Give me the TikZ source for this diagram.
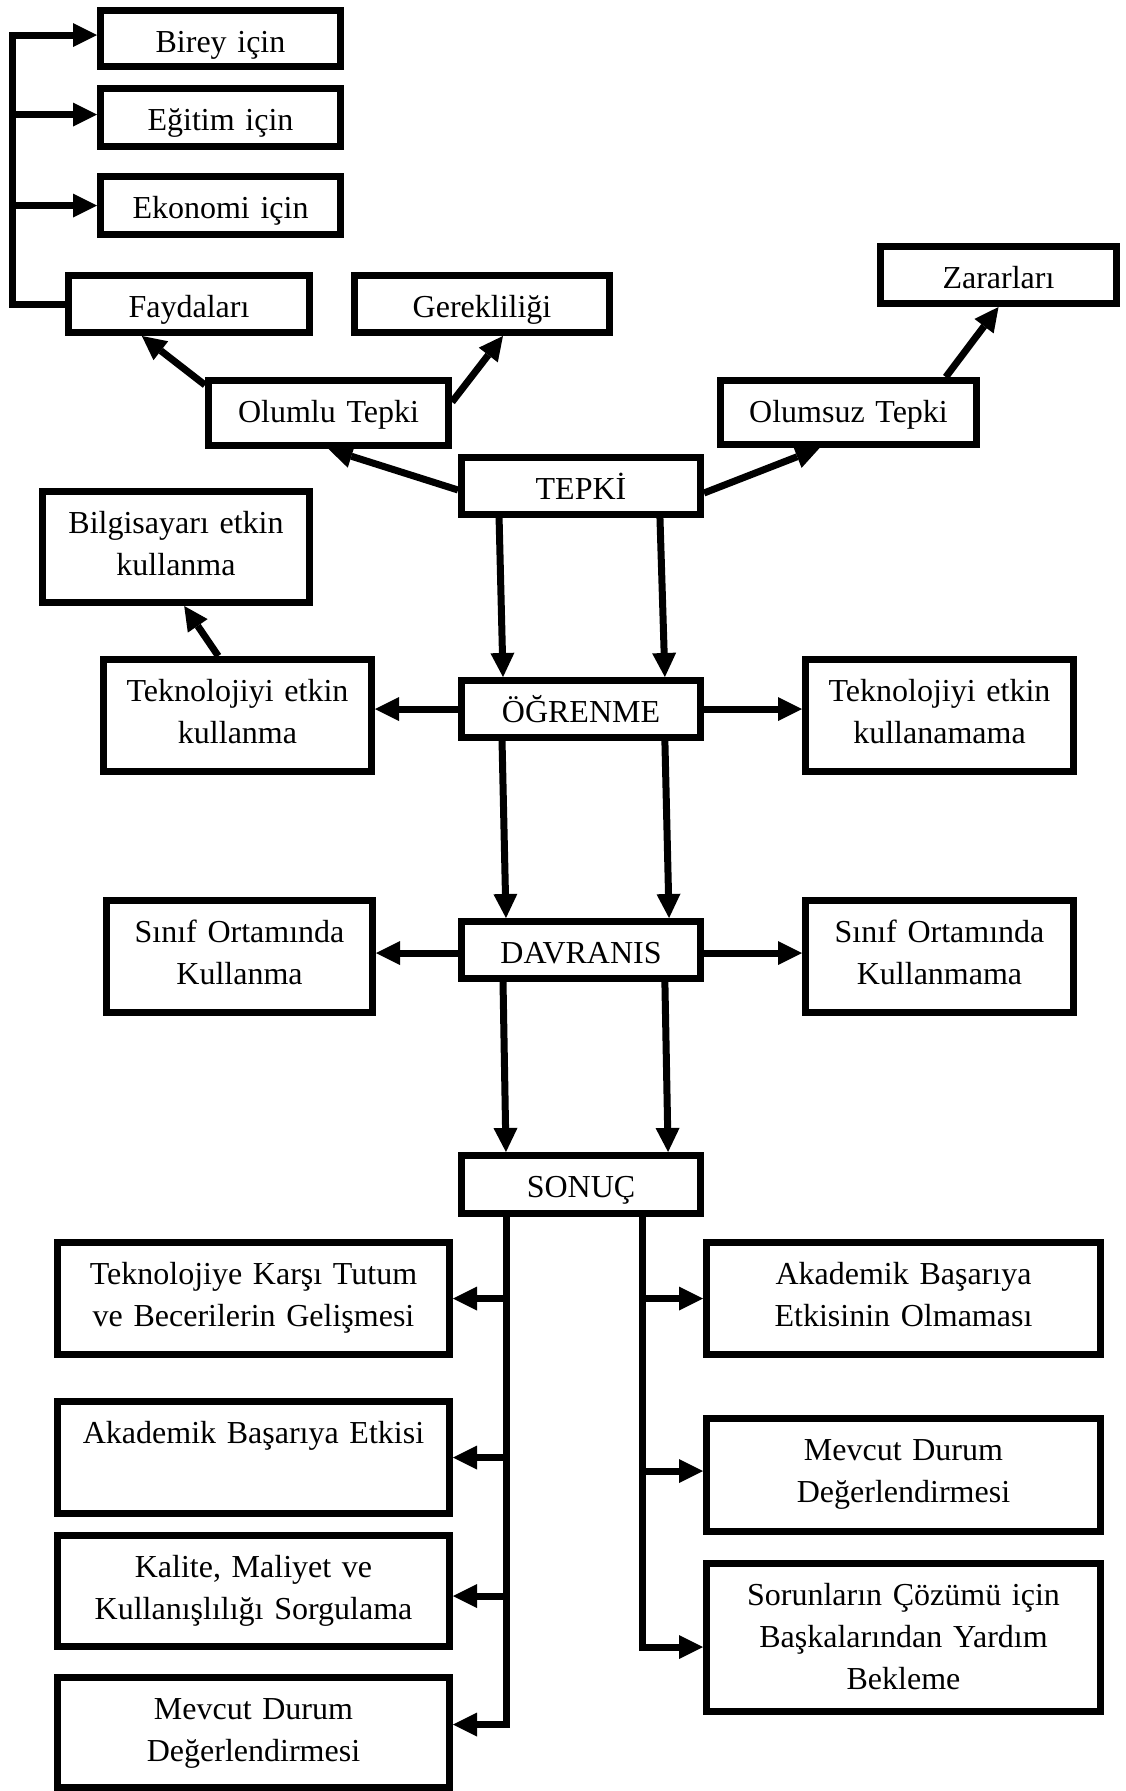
\documentclass[tikz,border=0pt]{standalone}
\usepackage{fontspec}
\setmainfont{Liberation Serif}
\usetikzlibrary{calc,arrows.meta}
\tikzset{
  bx/.style={draw, line width=7pt, inner sep=0pt, anchor=north west, align=center,
    text height=41.5pt, font=\fontsize{32}{42}\selectfont},
  conn/.style={line width=7pt},
  arr/.style={conn, -{Triangle[length=24pt,width=24pt,line width=0pt]}}
}
\begin{document}
\begin{tikzpicture}[x=1pt,y=-1pt]
\useasboundingbox[fill=white] (0,0) rectangle (1126,1791);
% boxes (anchor = outer north west corner)
\node[bx, text width=240pt, text depth=14.5pt] (birey) at (97,7) {Birey için};
\node[bx, text width=240pt, text depth=16.5pt] (egitim) at (97,85) {Eğitim için};
\node[bx, text width=240pt, text depth=16.5pt] (ekonomi) at (97,173) {Ekonomi için};
\node[bx, text width=241pt, text depth=15.5pt] (fayda) at (65,272) {Faydaları};
\node[bx, text width=255pt, text depth=15.5pt] (gerek) at (351,272) {Gerekliliği};
\node[bx, text width=236pt, text depth=15.5pt] (zarar) at (877,243) {Zararları};
\node[bx, text width=240pt, text depth=23.5pt] (olumlu) at (205,377) {Olumlu Tepki};
\node[bx, text width=256pt, text depth=22.5pt] (olumsuz) at (717,377) {Olumsuz Tepki};
\node[bx, text width=239pt, text depth=15.5pt] (tepki) at (458,454) {TEPKİ};
\node[bx, text width=267pt, text depth=69.5pt] (bilgi) at (39,488) {Bilgisayarı etkin\\kullanma};
\node[bx, text width=268pt, text depth=70.5pt] (tekL) at (100,656) {Teknolojiyi etkin\\kullanma};
\node[bx, text width=239pt, text depth=15.5pt] (ogrenme) at (458,677) {ÖĞRENME};
\node[bx, text width=268pt, text depth=70.5pt] (tekR) at (802,656) {Teknolojiyi etkin\\kullanamama};
\node[bx, text width=266pt, text depth=70.5pt] (sinifL) at (103,897) {Sınıf Ortamında\\Kullanma};
\node[bx, text width=239pt, text depth=15.5pt] (davranis) at (458,918) {DAVRANIS};
\node[bx, text width=268pt, text depth=70.5pt] (sinifR) at (802,897) {Sınıf Ortamında\\Kullanmama};
\node[bx, text width=239pt, text depth=16.5pt] (sonuc) at (458,1152) {SONUÇ};
\node[bx, text width=392pt, text depth=70.5pt] (tutum) at (54,1239) {Teknolojiye Karşı Tutum\\ve Becerilerin Gelişmesi};
\node[bx, text width=392pt, text depth=70.5pt] (akad) at (54,1398) {Akademik Başarıya Etkisi};
\node[bx, text width=392pt, text depth=69.5pt] (kalite) at (54,1532) {Kalite, Maliyet ve\\Kullanışlılığı Sorgulama};
\node[bx, text width=392pt, text depth=68.5pt] (mevcutL) at (54,1674) {Mevcut Durum\\Değerlendirmesi};
\node[bx, text width=394pt, text depth=70.5pt] (akadR) at (703,1239) {Akademik Başarıya\\Etkisinin Olmaması};
\node[bx, text width=394pt, text depth=71.5pt] (mevcutR) at (703,1415) {Mevcut Durum\\Değerlendirmesi};
\node[bx, text width=394pt, text depth=106.5pt] (sorun) at (703,1560) {Sorunların Çözümü için\\Başkalarından Yardım\\Bekleme};
% bracket at top left
\coordinate (bt) at (12,35);
\draw[arr] (fayda.west) -| (bt) -- (bt -| birey.west);
\coordinate (eg) at ([yshift=3pt]egitim.west);
\draw[arr] (bt |- eg) -- (eg);
\draw[arr] (bt |- ekonomi.west) -- (ekonomi.west);
% tepki level
\draw[arr] ([yshift=-8pt]olumlu.north west) -- ($(fayda.south west)!0.31!(fayda.south east)$);
\draw[arr] ([yshift=11pt]olumlu.east) -- ($(gerek.south west)!0.58!(gerek.south east)$);
\draw[arr] ([yshift=-4pt]tepki.west) -- (olumlu.south);
\draw[arr] ([yshift=-7pt]tepki.east) -- ($(olumsuz.south west)!0.39!(olumsuz.south east)$);
\draw[arr] ($(olumsuz.north west)!0.87!(olumsuz.north east)$) -- (zarar.south);
% tepki -> ogrenme
\draw[arr] ($(tepki.south west)!0.167!(tepki.south east)$) -- ($(ogrenme.north west)!0.183!(ogrenme.north east)$);
\draw[arr] ($(tepki.south west)!0.821!(tepki.south east)$) -- ($(ogrenme.north west)!0.841!(ogrenme.north east)$);
\draw[arr] (ogrenme.west) -- (ogrenme.west -| tekL.east);
\draw[arr] (ogrenme.east) -- (ogrenme.east -| tekR.west);
\draw[arr] ($(tekL.north west)!0.43!(tekL.north east)$) -- ($(bilgi.south west)!0.53!(bilgi.south east)$);
% ogrenme -> davranis
\draw[arr] ($(ogrenme.south west)!0.179!(ogrenme.south east)$) -- ($(davranis.north west)!0.195!(davranis.north east)$);
\draw[arr] ($(ogrenme.south west)!0.841!(ogrenme.south east)$) -- ($(davranis.north west)!0.858!(davranis.north east)$);
\coordinate (dl) at ([yshift=-3pt]davranis.west);
\coordinate (dr) at ([yshift=-3pt]davranis.east);
\draw[arr] (dl) -- (dl -| sinifL.east);
\draw[arr] (dr) -- (dr -| sinifR.west);
% davranis -> sonuc
\draw[arr] ($(davranis.south west)!0.183!(davranis.south east)$) -- ($(sonuc.north west)!0.195!(sonuc.north east)$);
\draw[arr] ($(davranis.south west)!0.841!(davranis.south east)$) -- ($(sonuc.north west)!0.854!(sonuc.north east)$);
% sonuc trunks
\coordinate (sl) at ($(sonuc.south west)!0.199!(sonuc.south east)$);
\coordinate (sr) at ($(sonuc.south west)!0.752!(sonuc.south east)$);
\coordinate (mL) at ([yshift=8pt]mevcutL.east);
\draw[arr] (sl) |- (mL);
\draw[arr] (sl |- tutum.east) -- (tutum.east);
\draw[arr] (sl |- akad.east) -- (akad.east);
\coordinate (kl) at ([yshift=-5pt]kalite.east);
\draw[arr] (sl |- kl) -- (kl);
\coordinate (so) at ([yshift=-9.5pt]sorun.west);
\draw[arr] (sr) |- (so);
\draw[arr] (sr |- akadR.west) -- (akadR.west);
\coordinate (mR) at ([yshift=4pt]mevcutR.west);
\draw[arr] (sr |- mR) -- (mR);
\end{tikzpicture}
\end{document}
